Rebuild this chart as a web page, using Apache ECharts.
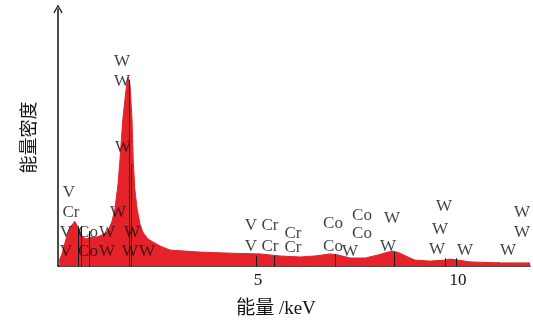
<!DOCTYPE html>
<html>
<head>
<meta charset="utf-8">
<script src="https://cdn.jsdelivr.net/npm/echarts@6/dist/echarts.min.js"></script>
<style>html,body{margin:0;padding:0;background:#fff}#c{width:533px;height:324px}</style>
</head>
<body>
<div id="c"></div>
<script>
// Spectrum: energy (keV) and intensity (arbitrary units)
var energy = [0.03,0.1,0.2,0.3,0.42,0.5,0.6,0.7,0.8,0.95,1.1,1.25,1.35,1.42,1.5,1.55,1.62,1.7,1.75,1.8,1.85,1.88,1.92,1.98,2.05,2.12,2.25,2.38,2.55,2.8,3.18,3.55,4.3,5.05,5.55,6.05,6.42,6.8,7.0,7.3,7.68,8.0,8.25,8.38,8.55,8.75,8.92,9.3,9.68,9.8,10.0,10.3,11.05,11.8];
var intensity = [2,4.7,10.5,15,17.4,15,11.6,10.5,11.2,11.2,12,13.6,17.4,22,31.8,41.5,57,68.6,73.6,70.5,57,41.5,30,22,16.3,13.2,10.5,9.3,7.8,6.2,5.8,5.4,5.0,4.7,3.9,3.5,3.9,4.7,4.3,3.1,3.1,4.3,5.4,5.8,5.0,3.5,2.3,1.9,2.3,2.7,2.3,1.6,1.2,1.2];

// Element line markers
var markerE = [0.51,0.57,0.78,1.775,1.835,4.95,5.41,6.93,8.40,9.67,9.96];
var markerTop = [15.5,15.5,13.6,72.5,39.5,4,4,4.7,5.4,3,3];

// Element labels
var labelText = ['V','Cr','V','Co','W','W','V','Co','W','W','W','W','W','W','W','V','Cr','Cr','Co','Co','W','V','Cr','Cr','Co','Co','W','W','W','W','W','W','W','W','W'];
var labelE = [0.275,0.325,0.2,0.75,1.225,1.85,0.2,0.75,1.225,1.8,2.225,1.5,1.625,1.6,1.6,4.825,5.3,5.875,6.875,7.6,8.35,4.825,5.3,5.875,6.875,7.6,7.3,8.25,9.65,9.55,9.475,10.175,11.25,11.6,11.6];
var labelI = [28.7,20.9,13.2,13.2,13.2,13.2,5.8,5.8,5.8,5.8,5.8,20.9,46.1,71.7,79.5,15.9,15.9,12.8,16.7,19.8,18.6,7.75,7.4,7.0,7.75,12.8,5.8,7.4,23.3,14.3,6.6,6.2,6.2,20.9,13.2];

var xTicks = [1,2,3,4,5,6,7,8,9,10,11];
var xLabels = [5,10];

var serif = "'Liberation Serif','Times New Roman','Noto Sans CJK SC',serif";

var spec = energy.map(function(e,i){return [e,intensity[i]];});
var markers = markerE.map(function(e,i){return [{coord:[e,0]},{coord:[e,markerTop[i]]}];});
var labels = labelText.map(function(t,i){return {name:t,value:[labelE[i],labelI[i]]};});

var chart = echarts.init(document.getElementById('c'));
chart.setOption({
  animation:false,
  grid:{left:58,right:3,top:9,bottom:57},
  xAxis:{
    type:'value',min:0,max:11.8,
    name:'能量 /keV',nameLocation:'middle',nameGap:34,
    nameTextStyle:{fontFamily:serif,fontSize:19,color:'#111',padding:[0,36,0,0]},
    axisLine:{lineStyle:{color:'#111',width:1.5}},
    axisTick:{show:true,inside:true,length:4,customValues:xTicks,lineStyle:{color:'#111'}},
    axisLabel:{customValues:xLabels,fontFamily:serif,fontSize:17,color:'#111',margin:6},
    splitLine:{show:false}
  },
  yAxis:{
    type:'value',min:0,max:100,
    name:'能量密度',nameLocation:'middle',nameGap:19,nameRotate:90,
    nameTextStyle:{fontFamily:serif,fontSize:18,color:'#111'},
    axisLine:{show:true,symbol:['none','path://M0,9 L5,0 L10,9 L9,10 L5,2.5 L1,10 Z'],symbolSize:[9,10],symbolOffset:[0,0],lineStyle:{color:'#111',width:1.5}},
    axisTick:{show:false},axisLabel:{show:false},splitLine:{show:false}
  },
  series:[
    {type:'line',data:spec,symbol:'none',smooth:false,
     lineStyle:{color:'#e5222a',width:1},areaStyle:{color:'#e5222a',opacity:1},z:2,
     markLine:{silent:true,symbol:['none','none'],label:{show:false},
       lineStyle:{color:'#111',width:1,type:'solid'},data:markers}},
    {type:'scatter',data:labels,symbolSize:0,z:5,
     label:{show:true,position:'inside',formatter:'{b}',fontFamily:serif,fontSize:17,color:'#111'}}
  ]
});
</script>
</body>
</html>
